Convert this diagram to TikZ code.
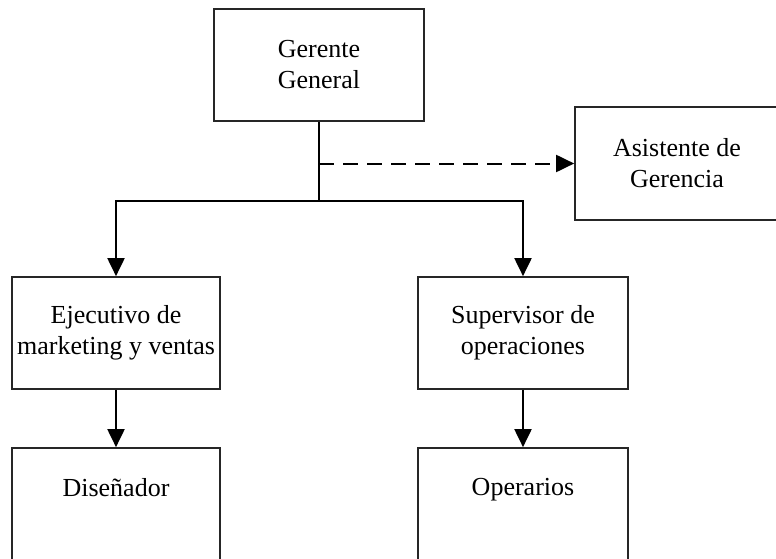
\documentclass[tikz,border=0pt]{standalone}
\usepackage{fontspec}
\setmainfont{Liberation Serif}
\usetikzlibrary{arrows.meta}
\tikzset{
  orgbox/.style={draw=black!85, line width=1.7pt, fill=white, rectangle, align=center,
    inner sep=2pt, font=\fontsize{26}{31}\selectfont},
  link/.style={draw=black, line width=2pt},
  tip/.style={-{Triangle[length=18pt,width=17pt]}},
  dashlink/.style={link, dash pattern=on 15pt off 9pt}
}
\begin{document}
\begin{tikzpicture}[x=1pt,y=-1pt]
\useasboundingbox (0,0) rectangle (776,559);
\clip (0,0) rectangle (776,559);
\fill[white] (0,0) rectangle (776,559);
\node[orgbox, minimum width=210pt, minimum height=112pt] (ger) at (319,65) {Gerente\\General};
\node[orgbox, minimum width=204pt, minimum height=113pt] (asi) at (677,163.5) {Asistente de\\Gerencia};
\node[orgbox, minimum width=208pt, minimum height=112pt] (eje) at (116,333) {Ejecutivo de\\marketing y ventas};
\node[orgbox, minimum width=210pt, minimum height=112pt] (sup) at (523,333) {Supervisor de\\operaciones};
\node[orgbox, minimum width=208pt, minimum height=113pt, text depth=35pt] (dis) at (116,504.5) {Diseñador};
\node[orgbox, minimum width=210pt, minimum height=113pt, text depth=35pt] (ope) at (523,504.5) {Operarios};
\coordinate (dj) at (319,163.5);
\coordinate (jn) at (319,201);
\draw[link] (ger.south) -- (jn);
\draw[dashlink, tip] (dj) -- (asi.west);
\draw[link, tip] (jn) -| (eje.north);
\draw[link, tip] (jn) -| (sup.north);
\draw[link, tip] (eje.south) -- (dis.north);
\draw[link, tip] (sup.south) -- (ope.north);
\end{tikzpicture}
\end{document}
